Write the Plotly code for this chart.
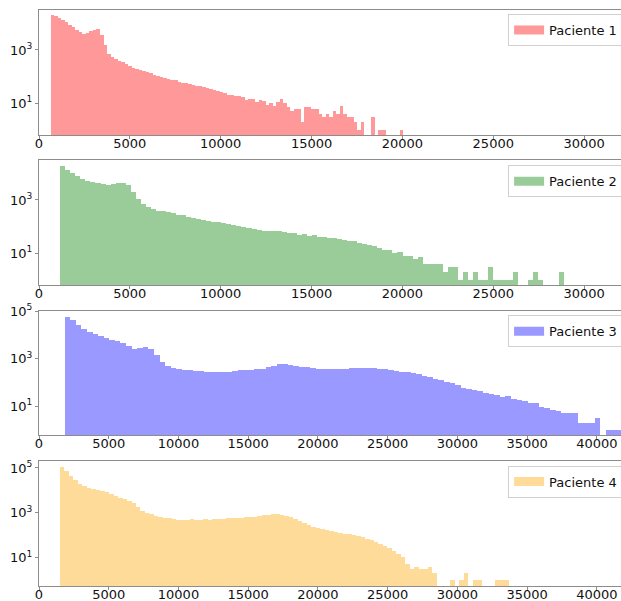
import plotly.graph_objects as go

# ---------------- data (bin counts) ----------------
labels = ["Paciente 1", "Paciente 2", "Paciente 3", "Paciente 4"]
colors = ["#ff9999", "#99cc99", "#9999ff", "#ffdb99"]

p1_start, p1_width = 640, 194
p1_counts = [20400, 18600, 16200, 13500, 11000, 8900, 7200, 5600, 4600, 4000,
             4200, 5000, 5800, 6000, 3500, 1600, 700, 525, 450, 385,
             340, 295, 250, 214, 195, 174, 158, 145, 132, 120,
             110, 100, 91, 83, 76, 72, 65, 60, 56, 52,
             49, 46, 44, 40, 36, 34, 32, 29, 26, 24,
             20, 21, 19, 18, 17, 13, 15, 14, 11, 13,
             12, 9, 10, 8, 11, 15, 10, 7, 5, 6,
             6, 2, 7, 7, 6, 6, 4, 3, 4, 3,
             5, 4, 8, 4, 3, 3, 2, 1, 2, 0,
             0, 3, 0, 1, 1, 0, 0, 0, 0, 1]

p2_start, p2_width = 1170, 277
p2_counts = [18600, 13800, 10700, 7900, 6300, 5200, 4600, 4300, 3900, 3800,
             4000, 4200, 4500, 3700, 2000, 1100, 680, 525, 447, 400,
             372, 347, 316, 282, 263, 240, 219, 191, 178, 166,
             155, 145, 135, 126, 115, 102, 95, 89, 83, 78,
             71, 69, 68, 69, 63, 56, 58, 50, 52, 45,
             48, 42, 40, 38, 36, 35, 32, 29, 28, 25,
             23, 20, 18, 16, 13, 13, 10, 11, 8, 8,
             6, 7, 4, 4, 4, 4, 2, 3, 3, 1,
             2, 1, 2, 1, 1, 3, 1, 1, 1, 1,
             2, 0, 0, 1, 2, 1, 0, 0, 0, 2]

p3_start, p3_width = 1840, 400
p3_counts = [57000, 40000, 26000, 17800, 13200, 10700, 8700, 7200, 6300, 5600,
             4700, 3400, 2600, 2700, 3200, 2500, 1450, 720, 470, 410,
             360, 330, 316, 300, 300, 280, 280, 275, 270, 280,
             300, 316, 325, 330, 345, 370, 425, 480, 560, 560,
             540, 490, 455, 420, 390, 370, 360, 355, 355, 360,
             370, 380, 390, 390, 390, 380, 370, 345, 330, 310,
             280, 265, 245, 215, 185, 165, 140, 120, 107, 89,
             76, 60, 52, 46, 42, 37, 32, 29, 24, 26,
             19, 18, 16, 13, 13, 9, 8, 7, 6, 5,
             5, 5, 2, 2, 2, 3, 0, 1, 1, 1]

p4_start, p4_width = 1480, 322
p4_counts = [105000, 72000, 43000, 28000, 19500, 15000, 13000, 11700, 10700, 9500,
             8300, 6800, 5600, 4800, 4200, 3500, 2800, 1800, 1170, 950,
             850, 720, 645, 600, 575, 525, 500, 500, 500, 510,
             500, 500, 510, 500, 510, 525, 540, 560, 575, 600,
             615, 630, 645, 675, 725, 775, 830, 870, 870, 830,
             760, 630, 525, 425, 340, 275, 240, 210, 185, 175,
             158, 145, 132, 120, 110, 100, 93, 85, 71, 59,
             50, 42, 33, 26, 19, 14, 11, 5, 3, 4,
             3, 3, 4, 2, 0, 0, 0, 1, 0, 1,
             2, 0, 1, 1, 0, 0, 0, 1, 1, 1]

x_ticks_short = [0, 5000, 10000, 15000, 20000, 25000, 30000]
x_ticks_long = [0, 5000, 10000, 15000, 20000, 25000, 30000, 35000, 40000]
y_ticks_short = [10, 1000]
y_ticks_long = [10, 1000, 100000]
y_ticktext_short = ["10<sup>1</sup>", "10<sup>3</sup>"]
y_ticktext_long = ["10<sup>1</sup>", "10<sup>3</sup>", "10<sup>5</sup>"]

# ---------------- figure ----------------
panels = [
    (p1_start, p1_width, p1_counts, [0, 32030], x_ticks_short, y_ticks_short, y_ticktext_short, [-0.19, 4.5], [0.78299, 1.0], 0.9930),
    (p2_start, p2_width, p2_counts, [0, 32030], x_ticks_short, y_ticks_short, y_ticktext_short, [-0.19, 4.5], [0.52257, 0.73958], 0.7305),
    (p3_start, p3_width, p3_counts, [0, 41730], x_ticks_long, y_ticks_long, y_ticktext_long, [-0.22, 5.0], [0.26215, 0.47743], 0.4700),
    (p4_start, p4_width, p4_counts, [0, 41730], x_ticks_long, y_ticks_long, y_ticktext_long, [-0.26, 5.31], [0.0, 0.21701], 0.2090),
]

FONT = "DejaVu Sans"
fig = go.Figure()
layout = dict(
    width=621, height=601,
    margin=dict(l=39, r=0, t=10, b=15, autoexpand=False),
    paper_bgcolor="white", plot_bgcolor="white",
    font=dict(family=FONT, size=13, color="#111111"),
    bargap=0,
    showlegend=True,
)

for k, (start, width, counts, xr, xt, yt, ytt, yr, dom, leg_y) in enumerate(panels):
    n = k + 1
    sfx = "" if n == 1 else str(n)
    centers = [start + width * (i + 0.5) for i in range(len(counts))]
    xs = [c for c, v in zip(centers, counts) if v > 0]
    ys = [v for v in counts if v > 0]
    fig.add_trace(go.Bar(
        x=xs, y=ys, width=width, name=labels[k],
        marker=dict(color=colors[k], line=dict(width=0)),
        xaxis="x" + sfx, yaxis="y" + sfx,
        legendgroup=labels[k], showlegend=False,
    ))
    # legend entry with a wide, flat swatch (matplotlib-style patch)
    fig.add_trace(go.Scatter(
        x=[None], y=[None], mode="lines", name=labels[k],
        line=dict(color=colors[k], width=9),
        xaxis="x" + sfx, yaxis="y" + sfx,
        legend="legend" + sfx, legendgroup=labels[k], showlegend=True,
        hoverinfo="skip",
    ))
    layout["xaxis" + sfx] = dict(
        domain=[0, 1], anchor="y" + sfx, range=xr,
        tickvals=xt, ticktext=[str(v) for v in xt],
        showline=True, linecolor="#8c8c8c", linewidth=1, mirror=True,
        ticks="outside", ticklen=3, tickcolor="#8c8c8c",
        ticklabelstandoff=-7,
        showgrid=False, zeroline=False,
        tickfont=dict(family=FONT, size=13, color="#111111"),
    )
    layout["yaxis" + sfx] = dict(
        domain=dom, anchor="x" + sfx, type="log", range=yr,
        tickvals=yt, ticktext=ytt,
        showline=True, linecolor="#8c8c8c", linewidth=1,
        ticks="outside", ticklen=3, tickcolor="#8c8c8c",
        showgrid=False, zeroline=False,
        tickfont=dict(family=FONT, size=13, color="#111111"),
    )
    layout["legend" + sfx] = dict(
        x=0.806, y=leg_y, xanchor="left", yanchor="top",
        bgcolor="rgba(255,255,255,0.8)", bordercolor="#d0d0d0", borderwidth=1,
        font=dict(family=FONT, size=13, color="#111111"),
        itemwidth=30,
    )

fig.update_layout(**layout)
fig.write_html(
    "out.html",
    config={"displayModeBar": False},
    post_script="document.body.style.margin='0';document.body.style.overflow='hidden';",
)
